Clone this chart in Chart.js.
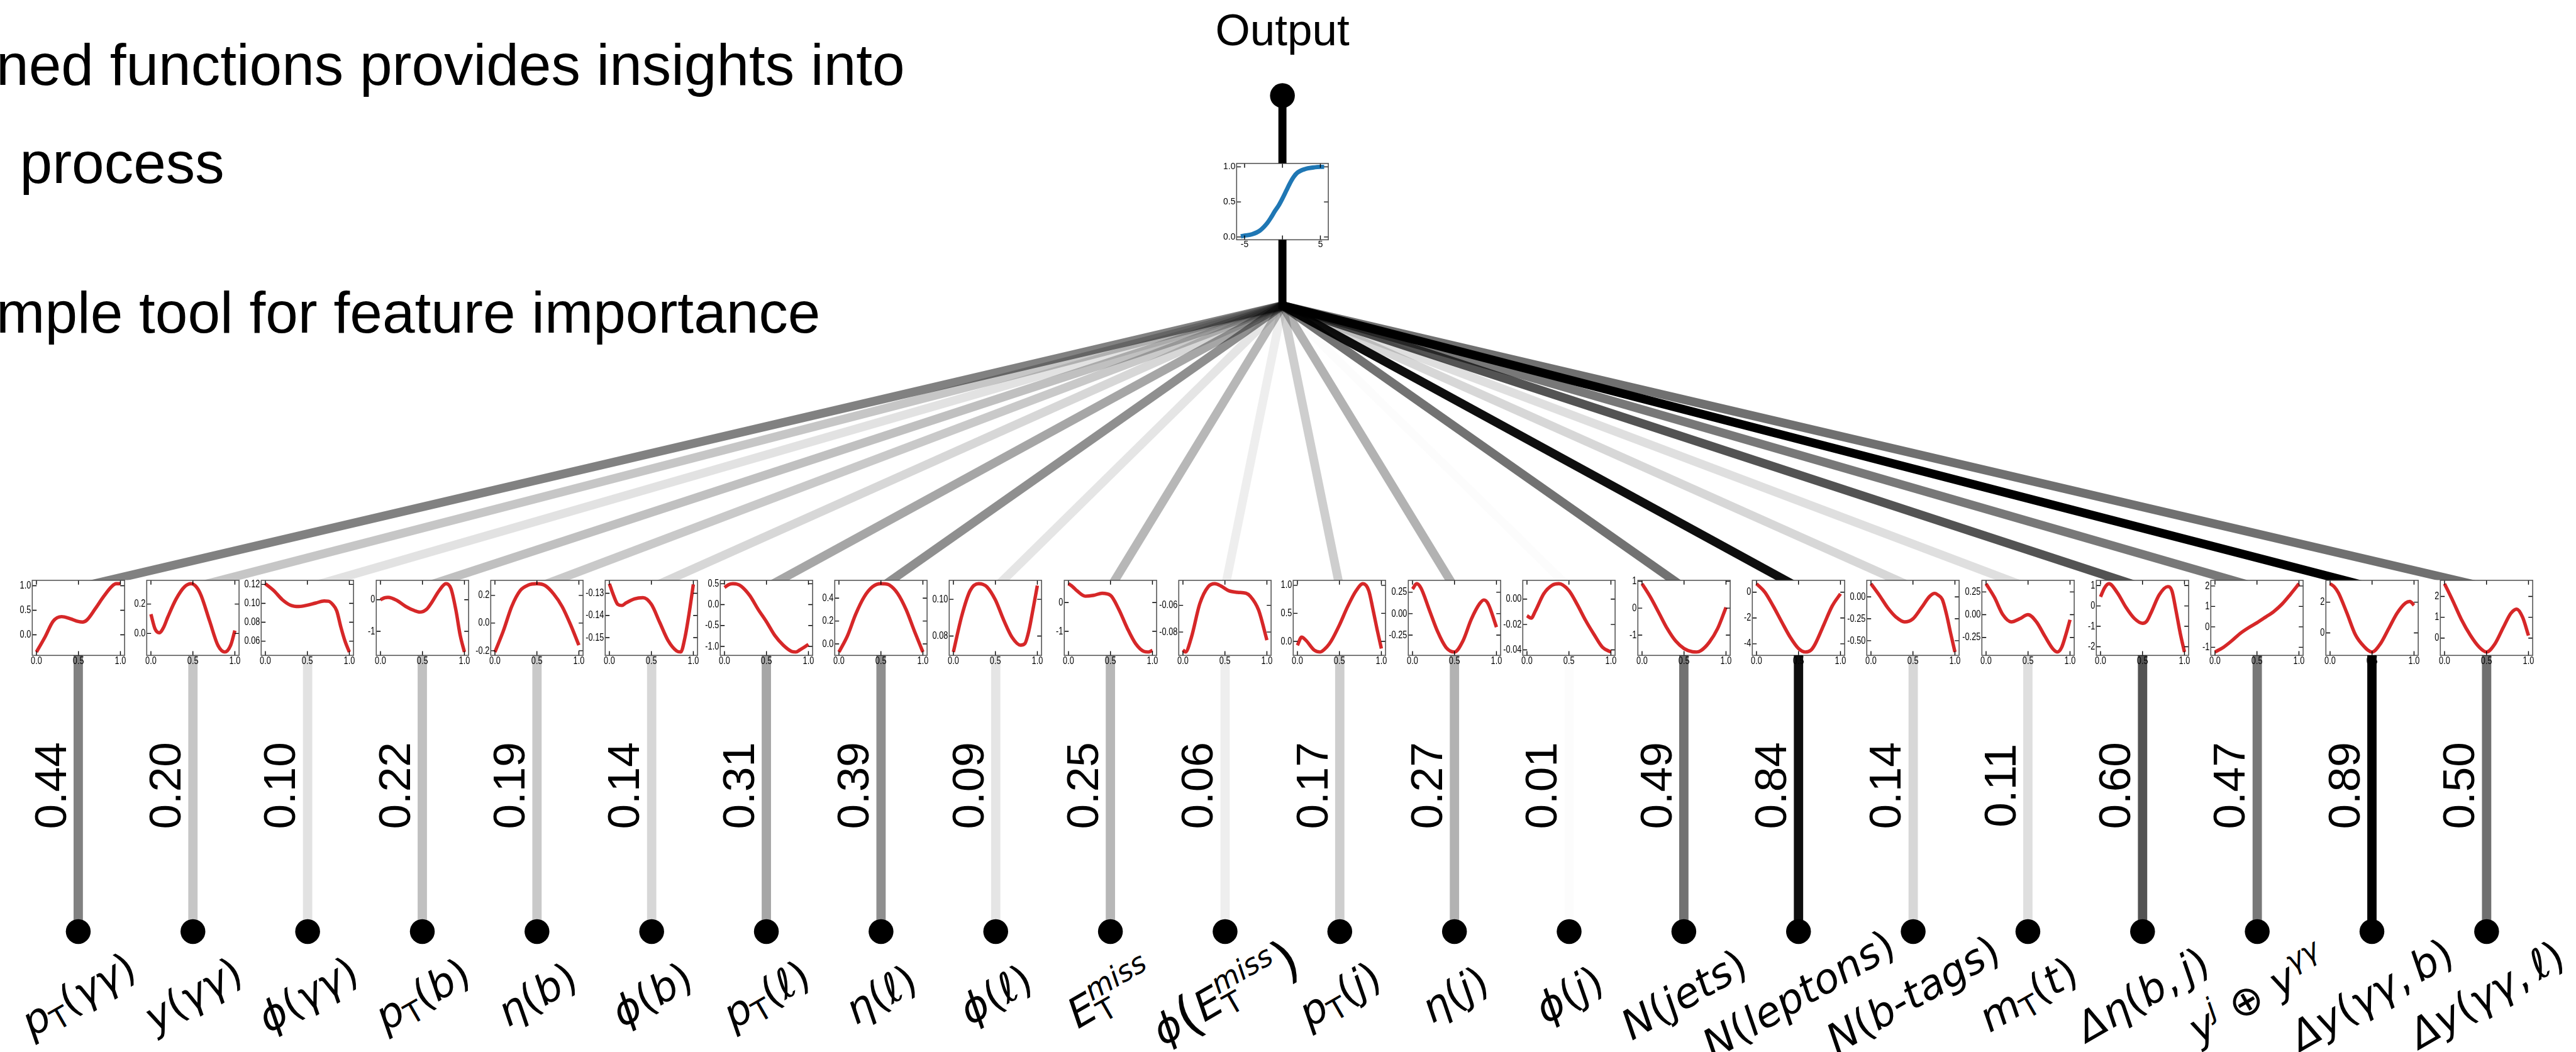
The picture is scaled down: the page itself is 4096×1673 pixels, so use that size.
<!DOCTYPE html>
<html>
<head>
<meta charset="utf-8">
<script src="https://cdn.jsdelivr.net/npm/chart.js@4.4.1/dist/chart.umd.min.js"></script>
<style>
html, body { margin: 0; padding: 0; background: #fff; overflow: hidden; }
#wrap { position: relative; width: 4096px; height: 1673px; overflow: hidden; }
#main { position: absolute; left: 0; top: 0; z-index: 5; }
canvas.mini { position: absolute; z-index: 1; }
.slide { position: absolute; font-family: 'Liberation Sans', Arial, sans-serif; white-space: nowrap; line-height: 1; color: #000; }
.feat { position: absolute; left: 0; top: 0; font-family: 'DejaVu Sans', sans-serif; white-space: nowrap; line-height: 1; color: #000; }
.feat i { font-style: italic; }
.feat sub { font-size: 0.7em; vertical-align: -0.25em; line-height: 0; }
.feat sup { font-size: 0.7em; vertical-align: 0.55em; line-height: 0; }
.feat .ss { display: inline-flex; flex-direction: column; font-size: 0.7em; line-height: 0.85; vertical-align: 0.6em; }
.feat .bp { font-size: 1.3em; vertical-align: -0.08em; }
</style>
</head>
<body>
<div id="wrap">
  <canvas id="main" width="4096" height="1673"></canvas>
</div>
<script>
const S = 4096 / 4148; // reference -> window

// feature names
const features = [
  '<i>p</i><sub>T</sub>(<i>γγ</i>)',
  '<i>y</i>(<i>γγ</i>)',
  '<i>ϕ</i>(<i>γγ</i>)',
  '<i>p</i><sub>T</sub>(<i>b</i>)',
  '<i>η</i>(<i>b</i>)',
  '<i>ϕ</i>(<i>b</i>)',
  '<i>p</i><sub>T</sub>(<i>ℓ</i>)',
  '<i>η</i>(<i>ℓ</i>)',
  '<i>ϕ</i>(<i>ℓ</i>)',
  '<i>E</i><span class="ss"><i>miss</i><span>T</span></span>',
  '<i>ϕ</i><span class="bp">(</span><i>E</i><span class="ss"><i>miss</i><span>T</span></span><span class="bp">)</span>',
  '<i>p</i><sub>T</sub>(<i>j</i>)',
  '<i>η</i>(<i>j</i>)',
  '<i>ϕ</i>(<i>j</i>)',
  '<i>N</i>(<i>jets</i>)',
  '<i>N</i>(<i>leptons</i>)',
  '<i>N</i>(<i>b</i>-<i>tags</i>)',
  '<i>m</i><sub>T</sub>(<i>t</i>)',
  '<i>Δη</i>(<i>b</i>,&#8201;<i>j</i>)',
  '<i>y</i><sup><i>j</i></sup> ⊕ <i>y</i><sup><i>γγ</i></sup>',
  '<i>Δy</i>(<i>γγ</i>,&#8201;<i>b</i>)',
  '<i>Δy</i>(<i>γγ</i>,&#8201;<i>ℓ</i>)'
];

// importance of each feature
const weights = [0.44, 0.20, 0.10, 0.22, 0.19, 0.14, 0.31, 0.39, 0.09, 0.25, 0.06,
                 0.17, 0.27, 0.01, 0.49, 0.84, 0.14, 0.11, 0.60, 0.47, 0.89, 0.50];

// tick labels of the small plots
const xTickLabels = ['0.0', '0.5', '1.0'];
const yTickLabels = [
  ['0.0', '0.5', '1.0'],
  ['0.0', '0.2'],
  ['0.06', '0.08', '0.10', '0.12'],
  ['-1', '0'],
  ['-0.2', '0.0', '0.2'],
  ['-0.15', '-0.14', '-0.13'],
  ['-1.0', '-0.5', '0.0', '0.5'],
  ['0.0', '0.2', '0.4'],
  ['0.08', '0.10'],
  ['-1', '0'],
  ['-0.08', '-0.06'],
  ['0.0', '0.5', '1.0'],
  ['-0.25', '0.00', '0.25'],
  ['-0.04', '-0.02', '0.00'],
  ['-1', '0', '1'],
  ['-4', '-2', '0'],
  ['-0.50', '-0.25', '0.00'],
  ['-0.25', '0.00', '0.25'],
  ['-2', '-1', '0', '1'],
  ['-1', '0', '1', '2'],
  ['0', '2'],
  ['0', '1', '2']
];

// learned functions as [x, y]
const curves = [
  [[0,-0.35],[0.1,-0.05],[0.2,0.28],[0.3,0.37],[0.4,0.33],[0.5,0.27],[0.55,0.26],[0.6,0.3],[0.7,0.53],[0.8,0.78],[0.9,0.99],[0.95,1.04],[1,1.04]],
  [[0,0.131],[0.05,0.03],[0.1,0.005],[0.15,0.04],[0.2,0.11],[0.3,0.234],[0.4,0.317],[0.48,0.338],[0.55,0.31],[0.6,0.255],[0.7,0.083],[0.8,-0.083],[0.88,-0.126],[0.95,-0.08],[1,0.02]],
  [[0,0.1207],[0.1,0.1135],[0.2,0.104],[0.3,0.098],[0.4,0.0966],[0.5,0.098],[0.6,0.1003],[0.7,0.1024],[0.75,0.1022],[0.8,0.099],[0.85,0.092],[0.9,0.0746],[0.95,0.0596],[1,0.0485]],
  [[0,0],[0.05,0.06],[0.09,0.075],[0.2,-0.03],[0.3,-0.21],[0.4,-0.34],[0.47,-0.39],[0.55,-0.3],[0.6,-0.13],[0.7,0.29],[0.78,0.505],[0.84,0.35],[0.9,-0.35],[0.95,-1.13],[1,-1.653]],
  [[0,-0.209],[0.1,-0.057],[0.2,0.12],[0.3,0.234],[0.4,0.275],[0.5,0.284],[0.6,0.27],[0.7,0.21],[0.8,0.12],[0.9,-0.01],[1,-0.16]],
  [[0,-0.1257],[0.05,-0.131],[0.1,-0.135],[0.15,-0.1355],[0.2,-0.1343],[0.3,-0.1325],[0.4,-0.132],[0.5,-0.135],[0.6,-0.1432],[0.7,-0.1514],[0.8,-0.156],[0.85,-0.1565],[0.9,-0.15],[0.95,-0.139],[1,-0.126]],
  [[0,0.41],[0.05,0.48],[0.1,0.5],[0.15,0.49],[0.2,0.44],[0.3,0.22],[0.4,-0.11],[0.5,-0.41],[0.6,-0.74],[0.7,-0.97],[0.8,-1.12],[0.85,-1.134],[0.9,-1.08],[0.95,-1.02],[1,-0.95]],
  [[0,-0.071],[0.1,0.068],[0.2,0.26],[0.3,0.41],[0.4,0.499],[0.5,0.526],[0.55,0.525],[0.6,0.515],[0.7,0.44],[0.8,0.3],[0.9,0.11],[1,-0.071]],
  [[0,0.0713],[0.1,0.0911],[0.2,0.1048],[0.3,0.1085],[0.35,0.1082],[0.4,0.1068],[0.5,0.0997],[0.6,0.0886],[0.7,0.0792],[0.8,0.075],[0.85,0.0758],[0.9,0.0831],[0.95,0.095],[1,0.1075]],
  [[0,0.653],[0.05,0.55],[0.1,0.41],[0.2,0.22],[0.3,0.25],[0.4,0.32],[0.5,0.25],[0.6,-0.24],[0.7,-0.89],[0.8,-1.43],[0.9,-1.7],[0.95,-1.718],[1,-1.66]],
  [[0,-0.0933],[0.03,-0.0949],[0.1,-0.0841],[0.2,-0.0589],[0.3,-0.0462],[0.38,-0.0439],[0.45,-0.0455],[0.55,-0.0492],[0.65,-0.0503],[0.75,-0.051],[0.8,-0.0531],[0.9,-0.0634],[1,-0.086]],
  [[0,-0.07],[0.05,0.075],[0.1,0.02],[0.2,-0.156],[0.27,-0.19],[0.35,-0.1],[0.4,0],[0.5,0.29],[0.6,0.626],[0.7,0.905],[0.78,1.028],[0.85,0.905],[0.9,0.57],[0.95,0.207],[1,-0.128]],
  [[0,0.287],[0.05,0.349],[0.1,0.3],[0.2,0.044],[0.3,-0.211],[0.4,-0.394],[0.5,-0.447],[0.6,-0.32],[0.7,-0.066],[0.8,0.117],[0.85,0.16],[0.9,0.117],[1,-0.157]],
  [[0,-0.0131],[0.05,-0.015],[0.1,-0.0094],[0.2,0.0042],[0.3,0.0109],[0.38,0.0121],[0.5,0.0067],[0.6,-0.0044],[0.7,-0.017],[0.8,-0.028],[0.9,-0.038],[1,-0.0417]],
  [[0,0.908],[0.1,0.41],[0.2,-0.17],[0.3,-0.76],[0.4,-1.22],[0.5,-1.5],[0.6,-1.62],[0.65,-1.629],[0.7,-1.58],[0.8,-1.27],[0.9,-0.76],[1,0.03]],
  [[0,0.655],[0.1,0],[0.2,-1.09],[0.3,-2.3],[0.4,-3.47],[0.5,-4.36],[0.58,-4.635],[0.65,-4.48],[0.7,-4.0],[0.8,-2.55],[0.9,-1.09],[1,-0.12]],
  [[0,0.15],[0.1,0.018],[0.2,-0.125],[0.3,-0.232],[0.4,-0.286],[0.5,-0.25],[0.6,-0.125],[0.7,0.007],[0.76,0.04],[0.8,0.02],[0.85,-0.03],[0.9,-0.2],[0.95,-0.42],[1,-0.629]],
  [[0,0.34],[0.1,0.19],[0.2,0],[0.3,-0.079],[0.4,-0.045],[0.5,0],[0.6,-0.079],[0.7,-0.236],[0.8,-0.38],[0.85,-0.41],[0.9,-0.36],[0.95,-0.22],[1,-0.056]],
  [[0,0.45],[0.05,0.9],[0.1,1.09],[0.2,0.65],[0.3,-0.05],[0.4,-0.6],[0.5,-0.85],[0.55,-0.75],[0.6,-0.35],[0.7,0.55],[0.8,0.95],[0.85,0.75],[0.9,-0.25],[0.95,-1.35],[1,-2.26]],
  [[0,-1.23],[0.1,-1.0],[0.2,-0.68],[0.3,-0.32],[0.4,-0.04],[0.5,0.2],[0.6,0.47],[0.7,0.75],[0.8,1.12],[0.9,1.6],[1,2.11]],
  [[0,3.2],[0.05,3.0],[0.1,2.6],[0.2,1.3],[0.3,-0.1],[0.4,-0.85],[0.5,-1.24],[0.6,-0.7],[0.7,0.3],[0.8,1.3],[0.9,1.95],[0.95,2.05],[1,1.8]],
  [[0,2.61],[0.1,1.78],[0.2,0.9],[0.31,0.12],[0.41,-0.42],[0.5,-0.67],[0.6,-0.28],[0.7,0.51],[0.79,1.19],[0.86,1.39],[0.93,1.0],[1,0.12]]
];

// output activation
const sigX = [-5.5, -5, -4, -3, -2, -1.5, -1, -0.5, 0, 0.5, 1, 1.5, 2, 3, 4, 5, 5.5];
const sigY = [0.01, 0.02, 0.04, 0.09, 0.2, 0.28, 0.37, 0.45, 0.55, 0.66, 0.77, 0.86, 0.92, 0.97, 0.99, 1.0, 1.0];
const sigXTicks = ['-5', '0', '5'];
const sigYTicks = ['0.0', '0.5', '1.0'];

// slide text
const slideLines = ['ned functions provides insights into', 'process', 'mple tool for feature importance'];

// layout (reference pixels)
const STEP = 184.67, FIRST = 126;
const X_MIN = -FIRST / STEP, X_MAX = X_MIN + 4148 / STEP;
const HUB_X = 10.5;
const OUT_DOT_Y = 154, OUT_BOX_TOP = 263, OUT_BOX_BOTTOM = 386, HUB_Y = 492;
const BOX_TOP = 934, BOX_BOTTOM = 1055, BOX_W = 149;
const VALUE_Y = 1265, DOT_Y = 1500, LABEL_Y = 1601;
const W = 4096, H = 1673;
const YS = H / 1694;

const alphaOf = w => w / Math.max(...weights);
const ink = w => `rgba(0,0,0,${alphaOf(w).toFixed(3)})`;

const datasets = [];
// lines from hub to each box
weights.forEach((w, i) => {
  datasets.push({
    data: [{x: HUB_X, y: HUB_Y}, {x: i, y: BOX_TOP + 12}],
    borderColor: ink(w), borderWidth: 14 * S, pointRadius: 0, order: 3,
    clip: {left: false, top: false, right: false, bottom: -(H - BOX_TOP * YS)}
  });
});
// stems from box to input node
weights.forEach((w, i) => {
  datasets.push({
    data: [{x: i, y: BOX_BOTTOM}, {x: i, y: DOT_Y}],
    borderColor: ink(w), borderWidth: 15 * S, pointRadius: 0, order: 2
  });
});
// output stem (two parts, the activation box sits between)
datasets.push({data: [{x: HUB_X, y: OUT_DOT_Y}, {x: HUB_X, y: OUT_BOX_TOP}], borderColor: '#000', borderWidth: 13 * S, pointRadius: 0, order: 2});
datasets.push({data: [{x: HUB_X, y: OUT_BOX_BOTTOM}, {x: HUB_X, y: HUB_Y + 6}], borderColor: '#000', borderWidth: 13 * S, pointRadius: 0, order: 2});
// nodes
datasets.push({
  data: weights.map((w, i) => ({x: i, y: DOT_Y})).concat([{x: HUB_X, y: OUT_DOT_Y}]),
  showLine: false, pointRadius: 20 * S, pointBackgroundColor: '#000', pointBorderWidth: 0, order: 0
});

// weight numbers, rotated, reading upwards, centred on VALUE_Y
const valueLabels = {
  id: 'valueLabels',
  afterDatasetsDraw(chart) {
    const {ctx, scales: {x, y}} = chart;
    weights.forEach((w, i) => {
      const txt = w.toFixed(2);
      ctx.save();
      ctx.font = `${72 * S}px 'Liberation Sans', Arial, sans-serif`;
      ctx.fillStyle = '#000';
      ctx.textAlign = 'left';
      ctx.textBaseline = 'alphabetic';
      const tw = ctx.measureText(txt).width;
      ctx.translate(x.getPixelForValue(i) - 20 * S, y.getPixelForValue(VALUE_Y) + tw / 2);
      ctx.rotate(-Math.PI / 2);
      ctx.fillText(txt, 0, 0);
      ctx.restore();
    });
  }
};

const main = new Chart(document.getElementById('main'), {
  type: 'line',
  data: {datasets},
  options: {
    responsive: false, animation: false, devicePixelRatio: 1, events: [],
    layout: {padding: 0, autoPadding: false},
    plugins: {legend: {display: false}, tooltip: {enabled: false}},
    scales: {
      x: {type: 'linear', display: false, min: X_MIN, max: X_MAX},
      y: {type: 'linear', display: false, min: 0, max: 1694, reverse: true}
    }
  },
  plugins: [valueLabels]
});

// frame, inward ticks and squeezed tick labels of the small plots
const frame = {
  id: 'frame',
  afterDraw(chart, args, o) {
    const {ctx, chartArea: a, scales: {x, y}} = chart;
    const L = 7 * S;
    ctx.save();
    ctx.strokeStyle = '#000';
    ctx.lineWidth = 1.4 * S;
    ctx.beginPath();
    x.ticks.forEach(t => {
      const p = x.getPixelForValue(t.value);
      ctx.moveTo(p, a.top); ctx.lineTo(p, a.top + L);
      ctx.moveTo(p, a.bottom); ctx.lineTo(p, a.bottom - L);
    });
    y.ticks.forEach(t => {
      const p = y.getPixelForValue(t.value);
      ctx.moveTo(a.left, p); ctx.lineTo(a.left + L, p);
      ctx.moveTo(a.right, p); ctx.lineTo(a.right - L, p);
    });
    ctx.stroke();
    ctx.strokeStyle = '#555';
    ctx.lineWidth = 1.6 * S;
    ctx.strokeRect(a.left, a.top, a.width, a.height);
    ctx.fillStyle = '#000';
    ctx.font = `${o.size}px 'Liberation Sans', Arial, sans-serif`;
    x.ticks.forEach((t, k) => {
      ctx.save();
      ctx.translate(x.getPixelForValue(t.value), a.bottom + 1 * S);
      ctx.scale(o.squeeze, 1);
      ctx.textAlign = 'center'; ctx.textBaseline = 'top';
      ctx.fillText(o.xLabels[k], 0, 0);
      ctx.restore();
    });
    y.ticks.forEach((t, k) => {
      ctx.save();
      ctx.translate(a.left - 2 * S, y.getPixelForValue(t.value));
      ctx.scale(o.squeeze, 1);
      ctx.textAlign = 'right'; ctx.textBaseline = 'middle';
      ctx.fillText(o.yLabels[k], 0, 0);
      ctx.restore();
    });
    ctx.restore();
  }
};

const wrap = document.getElementById('wrap');
const AX_W = 56 * S, AX_H = 24 * S, PAD_T = 8 * S, PAD_R = 10 * S;

function miniPlot(cx, topPx, boxW, boxH, pts, xLabels, yLabels, color, lw, xRange, fontSize, squeeze) {
  const c = document.createElement('canvas');
  c.className = 'mini';
  c.width = Math.round(AX_W + boxW + PAD_R);
  c.height = Math.round(PAD_T + boxH + AX_H);
  c.style.left = (cx - boxW / 2 - AX_W) + 'px';
  c.style.top = (topPx - PAD_T) + 'px';
  wrap.appendChild(c);
  const ys = pts.map(p => p[1]);
  const lo = Math.min(...ys), hi = Math.max(...ys), m = (hi - lo) * 0.05;
  const xv = xLabels.map(Number), yv = yLabels.map(Number);
  return new Chart(c, {
    type: 'line',
    data: {datasets: [{
      data: pts.map(p => ({x: p[0], y: p[1]})),
      borderColor: color, borderWidth: lw, pointRadius: 0,
      cubicInterpolationMode: 'monotone', borderCapStyle: 'butt'
    }]},
    options: {
      responsive: false, animation: false, devicePixelRatio: 1, events: [],
      layout: {padding: {left: 0, top: PAD_T, right: PAD_R, bottom: 0}, autoPadding: false},
      plugins: {legend: {display: false}, tooltip: {enabled: false},
                frame: {size: fontSize, squeeze, xLabels, yLabels}},
      scales: {
        x: {type: 'linear', min: xRange[0], max: xRange[1],
            afterBuildTicks: s => { s.ticks = xv.map(v => ({value: v})); },
            afterFit: s => { s.height = AX_H; },
            ticks: {display: false}, grid: {display: false, drawTicks: false}, border: {display: false}},
        y: {type: 'linear', min: lo - m, max: hi + m,
            afterBuildTicks: s => { s.ticks = yv.map(v => ({value: v})); },
            afterFit: s => { s.width = AX_W; },
            ticks: {display: false}, grid: {display: false, drawTicks: false}, border: {display: false}}
      }
    },
    plugins: [frame]
  });
}

const xs = main.scales.x, ysc = main.scales.y;
curves.forEach((pts, i) => {
  miniPlot(xs.getPixelForValue(i), ysc.getPixelForValue(BOX_TOP), BOX_W * S, (BOX_BOTTOM - BOX_TOP) * YS,
           pts, xTickLabels, yTickLabels[i], '#d62728', 5.5 * S, [-0.05, 1.05], 17 * S, 0.76);
});
miniPlot(xs.getPixelForValue(HUB_X), ysc.getPixelForValue(OUT_BOX_TOP), 148 * S, (OUT_BOX_BOTTOM - OUT_BOX_TOP) * YS,
         sigX.map((v, k) => [v, sigY[k]]), sigXTicks, sigYTicks, '#1f77b4', 7 * S, [-6.05, 6.05], 14 * S, 1);

// slide text (Liberation Sans baseline sits 0.8465em below the top with line-height 1)
const slideFont = 94 * S;
const slidePos = [[-6, 137.5], [32, 295], [-6, 536]];
slideLines.forEach((t, k) => {
  const d = document.createElement('div');
  d.className = 'slide';
  d.textContent = t;
  d.style.fontSize = slideFont + 'px';
  d.style.left = slidePos[k][0] * S + 'px';
  d.style.top = (slidePos[k][1] * S - 0.8465 * slideFont) + 'px';
  wrap.appendChild(d);
});

const out = document.createElement('div');
out.className = 'slide';
out.textContent = 'Output';
out.style.fontSize = 72 * S + 'px';
out.style.left = xs.getPixelForValue(HUB_X) + 'px';
out.style.top = (73 * S - 0.8465 * 72 * S) + 'px';
out.style.transform = 'translateX(-50%)';
wrap.appendChild(out);

// feature names under the input nodes
features.forEach((html, i) => {
  const d = document.createElement('div');
  d.className = 'feat';
  d.innerHTML = html;
  d.style.fontSize = 66 * S + 'px';
  d.style.transform = 'rotate(-30deg)';
  wrap.appendChild(d);
  const r = d.getBoundingClientRect();
  d.style.left = (xs.getPixelForValue(i) - (r.left + r.right) / 2) + 'px';
  d.style.top = (ysc.getPixelForValue(LABEL_Y) - (r.top + r.bottom) / 2) + 'px';
});
</script>
</body>
</html>
